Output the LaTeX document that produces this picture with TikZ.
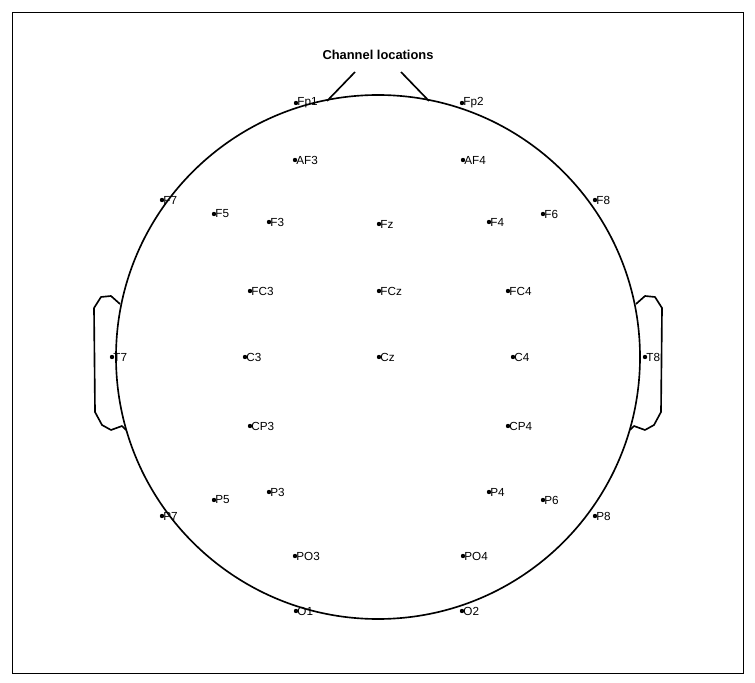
\documentclass[tikz,border=0pt]{standalone}
\usepackage{fontspec}
\setmainfont{Liberation Sans}
\begin{document}
\begin{tikzpicture}[
x=0.03cm, y=-0.03cm,
every node/.style = {font=\fontsize{10}{12}\selectfont},
outline/.style = {line width=1.4pt, line join=round},
lbl/.style = {anchor=west, inner sep=1pt}
]
\useasboundingbox (0,0) rectangle (755,683);
\draw[line width=0.6pt] (12,12) rectangle (743,673);
\node[font=\bfseries\fontsize{11}{13}\selectfont] (title) at (378,55) {Channel locations};
% head, nose, ears
\draw[outline] (378,357) circle (262);
\draw[outline] (327,101) -- (355,72);
\draw[outline] (429,101) -- (401,72);
\draw[outline] (120,304) -- (111,296) -- (101,297) -- (94,308) -- (95,412) -- (102,425) -- (111,430) -- (122,426) -- (126,430);
\draw[outline] (636,304) -- (645,296) -- (655,297) -- (662,308) -- (661,412) -- (654,425) -- (645,430) -- (634,426) -- (630,430);
% electrodes
\foreach \name/\px/\py in {Fp1/296/103, Fp2/462/103, AF3/295/160, AF4/463/160,
    F7/162/200, F5/214/214, F3/269/222, Fz/379/224, F4/489/222, F6/543/214, F8/595/200,
    FC3/250/291, FCz/379/291, FC4/508/291,
    T7/112/357, C3/245/357, Cz/379/357, C4/513/357, T8/645/357,
    CP3/250/426, CP4/508/426,
    P7/162/516, P5/214/500, P3/269/492, P4/489/492, P6/543/500, P8/595/516,
    PO3/295/556, PO4/463/556, O1/296/611, O2/462/611}
{
    \fill (\px,\py) coordinate (\name) circle (2.2);
    \node[lbl] (\name-l) at (\name) {\name};
}
\end{tikzpicture}
\end{document}
